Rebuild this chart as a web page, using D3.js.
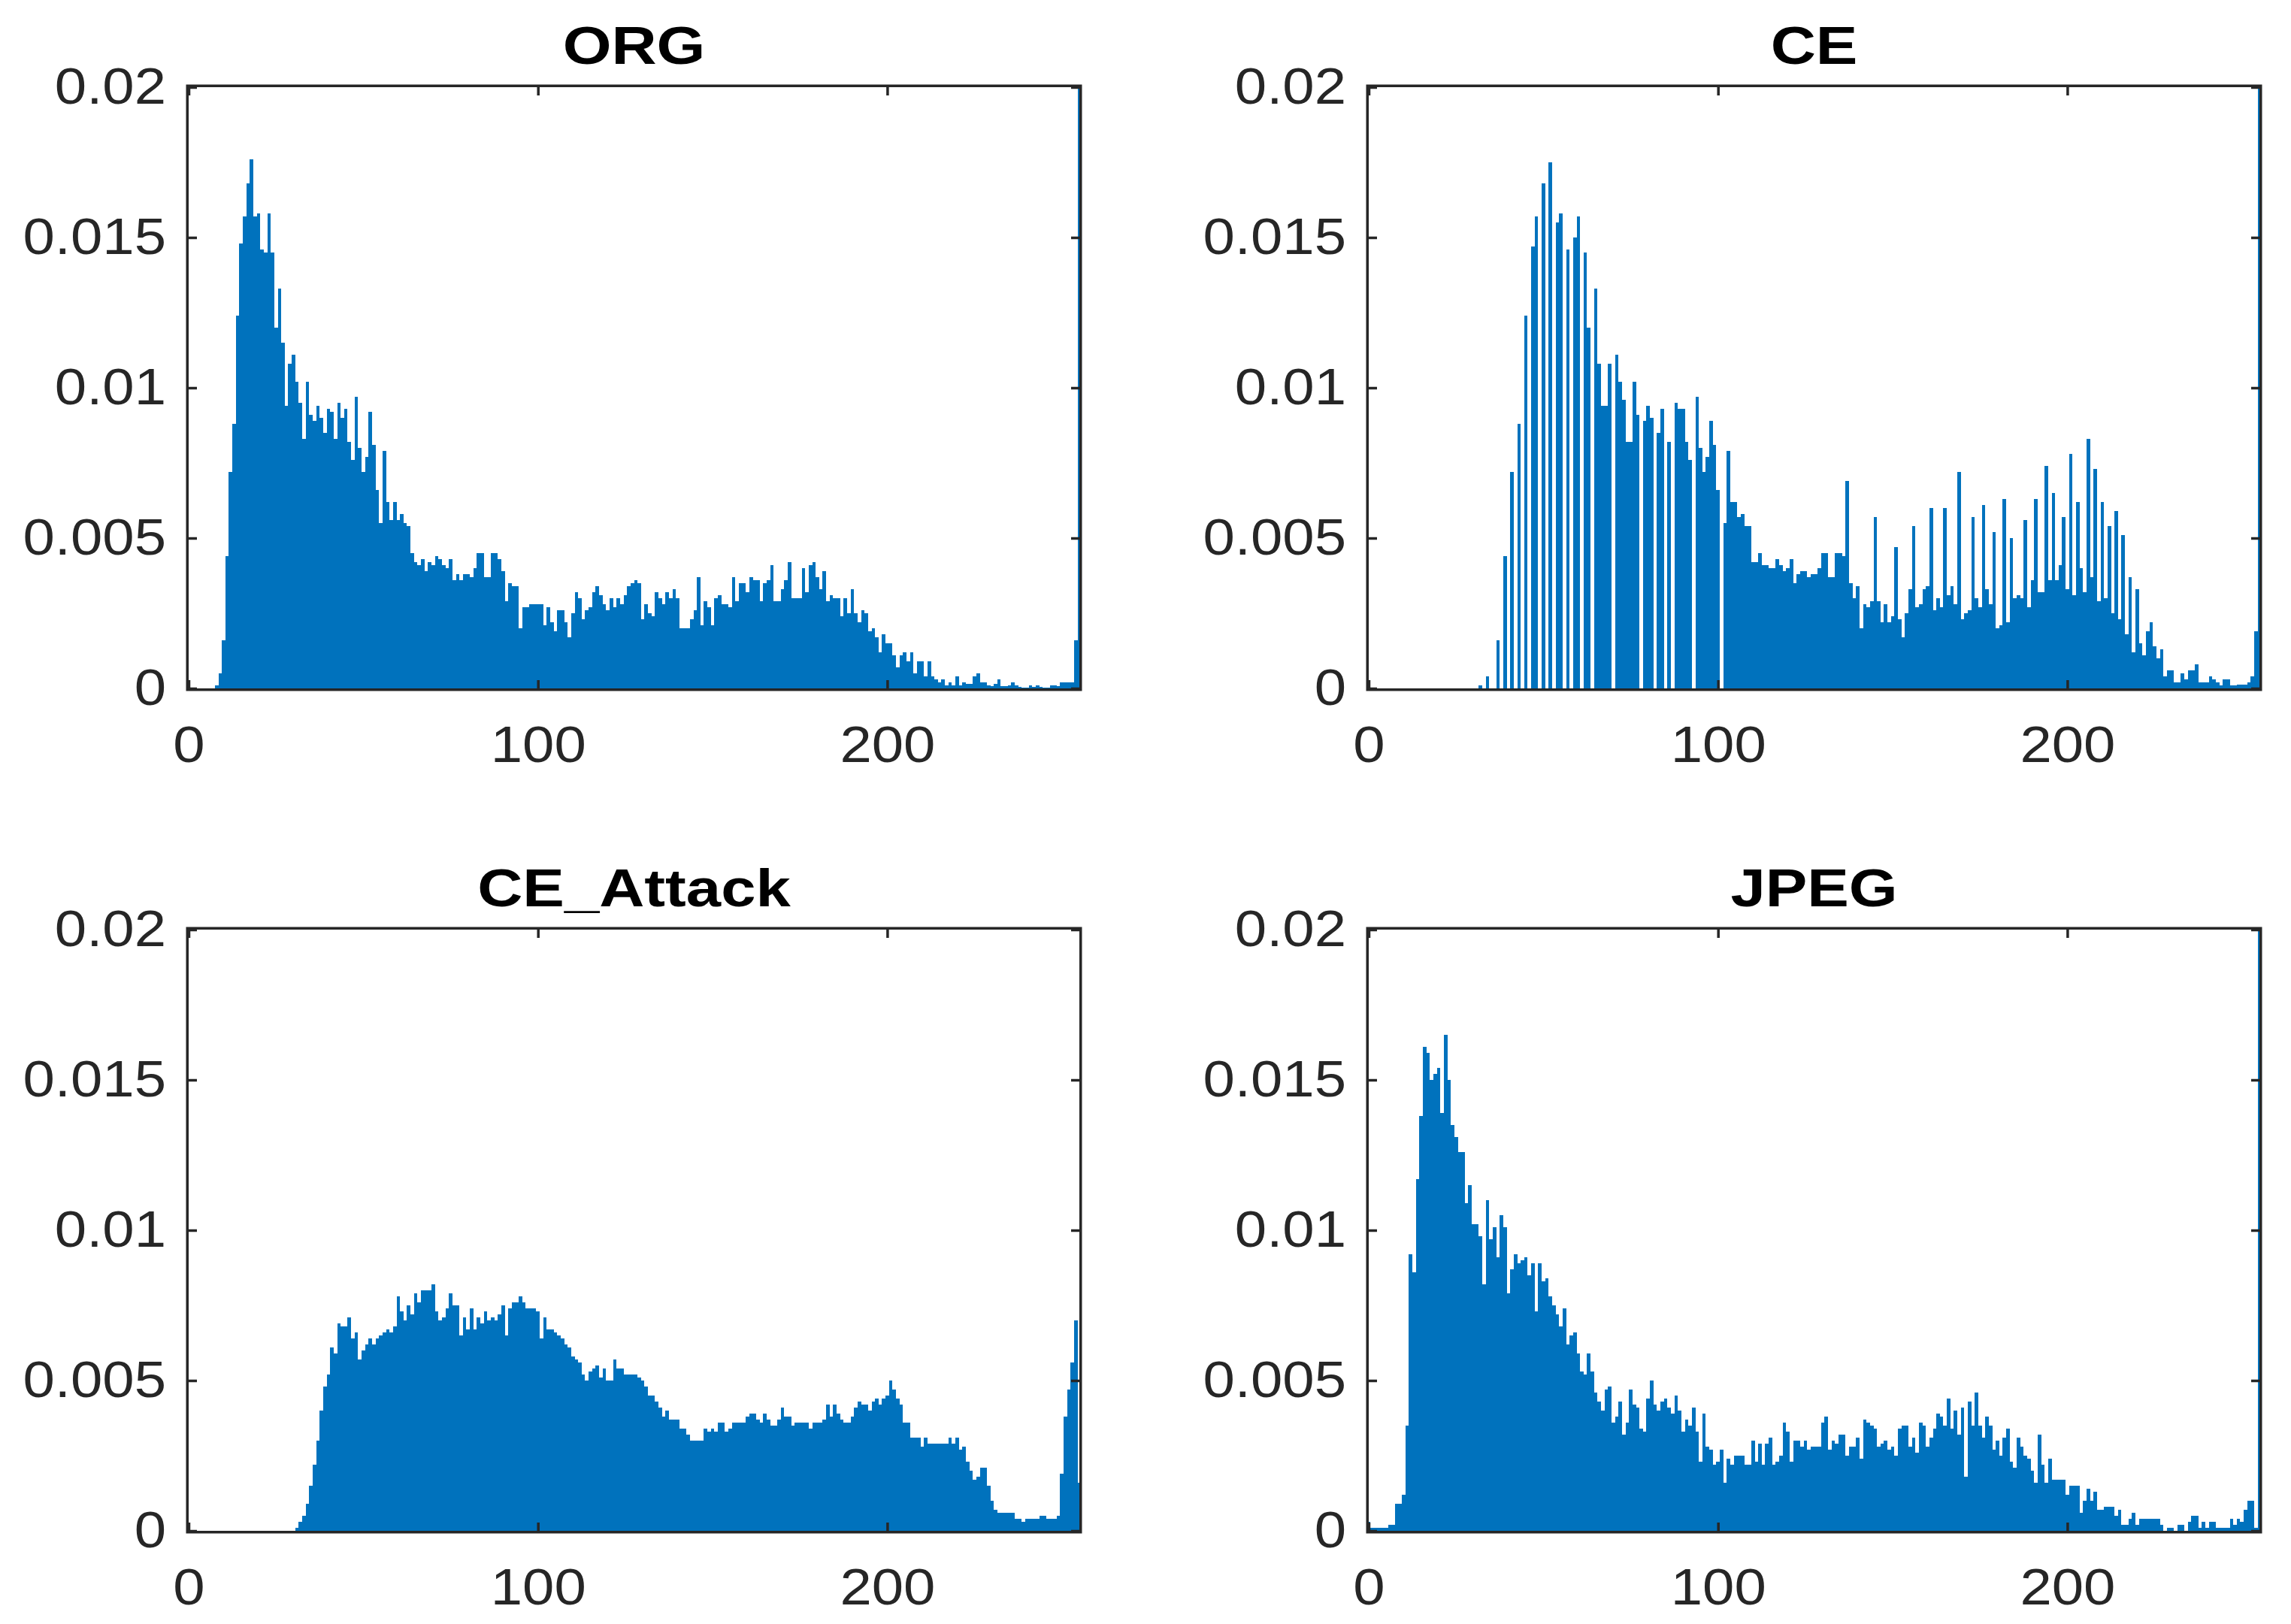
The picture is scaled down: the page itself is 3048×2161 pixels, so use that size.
<!DOCTYPE html>
<html>
<head>
<meta charset="utf-8">
<title>Histograms</title>
<script src="https://cdn.jsdelivr.net/npm/d3@7"></script>
<style>
	html, body { margin: 0; padding: 0; background: #fff; }
</style>
</head>
<body>
<div id="chart"></div>
<script>

// grey-level histograms (normalised counts), one value per bin 0..255
// values above 0.02 run off the top of the axes and are clipped
const ORG = [
	0, 0, 0, 0, 0, 0, 0, 0, 0.0001, 0.0005, 0.0016, 0.0044, 0.0072, 0.0088, 0.0124, 0.0148,
	0.0157, 0.0168, 0.0176, 0.0157, 0.0158, 0.0146, 0.0145, 0.0158, 0.0145, 0.0120, 0.0133, 0.0115, 0.0094, 0.0108, 0.0111, 0.0102,
	0.0095, 0.0083, 0.0102, 0.0091, 0.0089, 0.0094, 0.0090, 0.0085, 0.0093, 0.0092, 0.0083, 0.0095, 0.0090, 0.0093, 0.0082, 0.0076,
	0.0097, 0.0080, 0.0072, 0.0077, 0.0092, 0.0081, 0.0066, 0.0055, 0.0079, 0.0062, 0.0056, 0.0062, 0.0056, 0.0058, 0.0055, 0.0054,
	0.0045, 0.0042, 0.0041, 0.0043, 0.0039, 0.0042, 0.0041, 0.0044, 0.0043, 0.0041, 0.0040, 0.0043, 0.0036, 0.0038, 0.0036, 0.0038,
	0.0038, 0.0037, 0.0040, 0.0045, 0.0045, 0.0037, 0.0037, 0.0045, 0.0045, 0.0043, 0.0039, 0.0029, 0.0035, 0.0034, 0.0034, 0.0020,
	0.0027, 0.0027, 0.0028, 0.0028, 0.0028, 0.0028, 0.0021, 0.0027, 0.0022, 0.0019, 0.0026, 0.0026, 0.0022, 0.0017, 0.0025, 0.0032,
	0.0030, 0.0023, 0.0026, 0.0027, 0.0032, 0.0034, 0.0031, 0.0028, 0.0026, 0.0030, 0.0027, 0.0030, 0.0028, 0.0031, 0.0034, 0.0035,
	0.0036, 0.0035, 0.0023, 0.0028, 0.0025, 0.0024, 0.0032, 0.0030, 0.0028, 0.0032, 0.0030, 0.0033, 0.0030, 0.0020, 0.0020, 0.0020,
	0.0023, 0.0026, 0.0037, 0.0021, 0.0029, 0.0027, 0.0021, 0.0030, 0.0031, 0.0028, 0.0028, 0.0027, 0.0037, 0.0029, 0.0035, 0.0035,
	0.0032, 0.0037, 0.0036, 0.0036, 0.0029, 0.0035, 0.0036, 0.0041, 0.0029, 0.0029, 0.0033, 0.0036, 0.0042, 0.0030, 0.0030, 0.0030,
	0.0040, 0.0032, 0.0041, 0.0042, 0.0037, 0.0033, 0.0039, 0.0029, 0.0031, 0.0030, 0.0030, 0.0024, 0.0030, 0.0025, 0.0033, 0.0025,
	0.0022, 0.0026, 0.0025, 0.0019, 0.0020, 0.0017, 0.0012, 0.0018, 0.0015, 0.0015, 0.0011, 0.0007, 0.0011, 0.0012, 0.0009, 0.0012,
	0.0005, 0.0009, 0.0009, 0.0004, 0.0009, 0.0004, 0.0003, 0.0002, 0.0003, 0.0001, 0.0002, 0.0001, 0.0004, 0.0001, 0.0002, 0.00015,
	0.00015, 0.0004, 0.0005, 0.0002, 0.0002, 0.0001, 0.00007, 0.00015, 0.0003, 0.00007, 0.00007, 0.0001, 0.0002, 0.0001, 0.00005, 0.00003,
	0.00003, 0.0001, 0.00005, 0.0001, 0.00005, 0.00003, 0.00003, 0.0001, 0.0001, 0.00007, 0.0002, 0.0002, 0.0002, 0.0002, 0.0016, 0.022
];

const CE = [
	0, 0, 0, 0, 0, 0, 0, 0, 0, 0, 0, 0, 0, 0, 0, 0,
	0, 0, 0, 0, 0, 0, 0, 0, 0, 0, 0, 0, 0, 0, 0, 0,
	0.0001, 0, 0.0004, 0, 0, 0.0016, 0, 0.0044, 0, 0.0072, 0, 0.0088, 0, 0.0124, 0, 0.0147,
	0.0157, 0, 0.0168, 0, 0.0175, 0, 0.0155, 0.0158, 0, 0.0146, 0, 0.0150, 0.0157, 0, 0.0145, 0.0120,
	0, 0.0133, 0.0108, 0.0094, 0.0094, 0.0108, 0, 0.0111, 0.0102, 0.0096, 0.0082, 0.0082, 0.0102, 0.0091, 0, 0.0089,
	0.0094, 0.0090, 0, 0.0085, 0.0093, 0, 0.0082, 0, 0.0095, 0.0093, 0.0093, 0.0082, 0.0076, 0, 0.0097, 0.0080,
	0.0072, 0.0077, 0.0089, 0.0081, 0.0066, 0, 0.0055, 0.0079, 0.0062, 0.0062, 0.0057, 0.0058, 0.0054, 0.0054, 0.0042, 0.0042,
	0.0045, 0.0041, 0.0041, 0.0040, 0.0040, 0.0043, 0.0041, 0.0039, 0.0040, 0.0043, 0.0035, 0.0038, 0.0039, 0.0039, 0.0037, 0.0038,
	0.0038, 0.0040, 0.0045, 0.0045, 0.0037, 0.0037, 0.0045, 0.0045, 0.0044, 0.0069, 0.0035, 0.0030, 0.0034, 0.0020, 0.0028, 0.0027,
	0.0029, 0.0057, 0.0029, 0.0022, 0.0028, 0.0022, 0.0024, 0.0047, 0.0023, 0.0017, 0.0025, 0.0033, 0.0054, 0.0027, 0.0028, 0.0033,
	0.0034, 0.0060, 0.0026, 0.0030, 0.0027, 0.0060, 0.0031, 0.0034, 0.0028, 0.0072, 0.0023, 0.0025, 0.0026, 0.0057, 0.0030, 0.0027,
	0.0061, 0.0033, 0.0028, 0.0052, 0.0020, 0.0021, 0.0063, 0.0022, 0.0050, 0.0030, 0.0031, 0.0030, 0.0056, 0.0027, 0.0036, 0.0063,
	0.0032, 0.0032, 0.0074, 0.0036, 0.0065, 0.0036, 0.0041, 0.0057, 0.0033, 0.0078, 0.0031, 0.0062, 0.0040, 0.0032, 0.0083, 0.0037,
	0.0073, 0.0029, 0.0062, 0.0030, 0.0054, 0.0025, 0.0059, 0.0023, 0.0051, 0.0018, 0.0037, 0.0012, 0.0033, 0.0015, 0.0011, 0.0019,
	0.0022, 0.0014, 0.0010, 0.0013, 0.0004, 0.0006, 0.0006, 0.0002, 0.0002, 0.0005, 0.0003, 0.0006, 0.0006, 0.0008, 0.0002, 0.0002,
	0.0002, 0.0004, 0.0003, 0.0002, 0.0001, 0.0003, 0.0003, 0.0001, 0.0001, 0.00012, 0.00013, 0.00013, 0.0002, 0.0004, 0.0019, 0.022
];

const CE_ATTACK = [
	0, 0, 0, 0, 0, 0, 0, 0, 0, 0, 0, 0, 0, 0, 0, 0,
	0, 0, 0, 0, 0, 0, 0, 0, 0, 0, 0, 0, 0, 0, 0, 0.0001,
	0.0003, 0.0005, 0.0009, 0.0015, 0.0022, 0.0030, 0.0040, 0.0048, 0.0052, 0.0061, 0.0059, 0.0069, 0.0068, 0.0068, 0.0071, 0.0064,
	0.0066, 0.0057, 0.0060, 0.0062, 0.0064, 0.0062, 0.0064, 0.0065, 0.0066, 0.0067, 0.0066, 0.0068, 0.0078, 0.0073, 0.0070, 0.0075,
	0.0072, 0.0079, 0.0076, 0.0080, 0.0080, 0.0080, 0.0082, 0.0073, 0.0070, 0.0071, 0.0074, 0.0079, 0.0075, 0.0075, 0.0065, 0.0071,
	0.0067, 0.0074, 0.0067, 0.0071, 0.0069, 0.0073, 0.0070, 0.0071, 0.0070, 0.0072, 0.0075, 0.0065, 0.0074, 0.0076, 0.0076, 0.0078,
	0.0076, 0.0074, 0.0074, 0.0074, 0.0073, 0.0064, 0.0071, 0.0067, 0.0067, 0.0066, 0.0065, 0.0064, 0.0062, 0.0061, 0.0058, 0.0057,
	0.0056, 0.0052, 0.0050, 0.0053, 0.0054, 0.0055, 0.0051, 0.0054, 0.0050, 0.0050, 0.0057, 0.0054, 0.0054, 0.0052, 0.0052, 0.0052,
	0.0052, 0.0051, 0.0050, 0.0048, 0.0045, 0.0045, 0.0043, 0.0041, 0.0038, 0.0040, 0.0037, 0.0037, 0.0037, 0.0034, 0.0034, 0.0032,
	0.0030, 0.0030, 0.0030, 0.0030, 0.0034, 0.0033, 0.0034, 0.0033, 0.0036, 0.0036, 0.0033, 0.0034, 0.0036, 0.0036, 0.0036, 0.0036,
	0.0038, 0.0039, 0.0039, 0.0037, 0.0036, 0.0039, 0.0037, 0.0035, 0.0035, 0.0037, 0.0041, 0.0038, 0.0038, 0.0035, 0.0036, 0.0036,
	0.0036, 0.0036, 0.0034, 0.0036, 0.0036, 0.0036, 0.0037, 0.0042, 0.0038, 0.0042, 0.0039, 0.0037, 0.0036, 0.0036, 0.0038, 0.0041,
	0.0043, 0.0042, 0.0042, 0.0040, 0.0043, 0.0044, 0.0042, 0.0044, 0.0045, 0.0050, 0.0047, 0.0044, 0.0042, 0.0036, 0.0036, 0.0031,
	0.0031, 0.0031, 0.0028, 0.0031, 0.0029, 0.0029, 0.0029, 0.0029, 0.0029, 0.0029, 0.0031, 0.0029, 0.0031, 0.0027, 0.0028, 0.0023,
	0.0020, 0.0017, 0.0018, 0.0021, 0.0021, 0.0015, 0.0010, 0.0007, 0.0006, 0.0006, 0.0006, 0.0006, 0.0006, 0.0004, 0.0004, 0.0003,
	0.0004, 0.0004, 0.0004, 0.0004, 0.0005, 0.0005, 0.0004, 0.0004, 0.0004, 0.0005, 0.0019, 0.0038, 0.0047, 0.0056, 0.0070, 0.0016
];

const JPEG = [
	0.0003, 0.0001, 0.0001, 0.0001, 0.0001, 0.0001, 0.0002, 0.0002, 0.0009, 0.0009, 0.0012, 0.0035, 0.0092, 0.0086, 0.0117, 0.0138,
	0.0161, 0.0159, 0.0150, 0.0152, 0.0154, 0.0139, 0.0165, 0.0150, 0.0135, 0.0131, 0.0126, 0.0126, 0.0109, 0.0115, 0.0102, 0.0102,
	0.0098, 0.0082, 0.0110, 0.0097, 0.0101, 0.0091, 0.0105, 0.0101, 0.0079, 0.0087, 0.0092, 0.0089, 0.0090, 0.0091, 0.0085, 0.0089,
	0.0073, 0.0089, 0.0083, 0.0084, 0.0078, 0.0075, 0.0072, 0.0068, 0.0074, 0.0062, 0.0065, 0.0066, 0.0059, 0.0053, 0.0052, 0.0059,
	0.0053, 0.0046, 0.0043, 0.0040, 0.0047, 0.0048, 0.0036, 0.0038, 0.0043, 0.0032, 0.0036, 0.0047, 0.0042, 0.0041, 0.0034, 0.0033,
	0.0044, 0.0050, 0.0042, 0.0040, 0.0043, 0.0044, 0.0041, 0.0039, 0.0045, 0.0040, 0.0033, 0.0037, 0.0035, 0.0041, 0.0033, 0.0023,
	0.0039, 0.0028, 0.0027, 0.0022, 0.0023, 0.0027, 0.0016, 0.0024, 0.0022, 0.0025, 0.0025, 0.0025, 0.0022, 0.0022, 0.0030, 0.0023,
	0.0029, 0.0022, 0.0029, 0.0031, 0.0022, 0.0023, 0.0025, 0.0036, 0.0033, 0.0023, 0.0030, 0.0030, 0.0028, 0.0030, 0.0027, 0.0028,
	0.0028, 0.0028, 0.0036, 0.0038, 0.0027, 0.0030, 0.0029, 0.0032, 0.0032, 0.0025, 0.0028, 0.0028, 0.0031, 0.0024, 0.0037, 0.0036,
	0.0035, 0.0034, 0.0028, 0.0029, 0.0030, 0.0027, 0.0028, 0.0025, 0.0034, 0.0035, 0.0035, 0.0028, 0.0031, 0.0026, 0.0036, 0.0035,
	0.0028, 0.0031, 0.0034, 0.0039, 0.0038, 0.0035, 0.0044, 0.0034, 0.0040, 0.0032, 0.0041, 0.0018, 0.0043, 0.0035, 0.0046, 0.0035,
	0.0031, 0.0038, 0.0035, 0.0027, 0.0030, 0.0025, 0.0031, 0.0034, 0.0023, 0.0021, 0.0031, 0.0028, 0.0025, 0.0024, 0.0020, 0.0016,
	0.0032, 0.0022, 0.0016, 0.0024, 0.0017, 0.0017, 0.0017, 0.0017, 0.0012, 0.0015, 0.0015, 0.0015, 0.0006, 0.0010, 0.0014, 0.0010,
	0.0013, 0.0007, 0.0007, 0.0008, 0.0008, 0.0008, 0.0005, 0.0007, 0.0002, 0.0002, 0.0004, 0.0006, 0.0002, 0.0004, 0.0004, 0.0004,
	0.0004, 0.0004, 0.0004, 0.0002, 0, 0.0001, 0.0001, 0, 0.0002, 0.0002, 0, 0.0003, 0.0005, 0.0005, 0.0001, 0.0003,
	0.0001, 0.0003, 0.0003, 0.0001, 0.0001, 0.0001, 0.0001, 0.0004, 0.0002, 0.0004, 0.0003, 0.0007, 0.0010, 0.0010, 0.0001, 0.022
];

const TITLES = ['ORG', 'CE', 'CE_Attack', 'JPEG'];
const SERIES = [ORG, CE, CE_ATTACK, JPEG];
const X_TICKS = [0, 100, 200];
const Y_TICKS = [0, 0.005, 0.01, 0.015, 0.02];

const W = 3048,
	H = 2161,
	COL_X = [251, 1821],
	ROW_Y = [116, 1237],
	AX_W = 1185,
	AX_H = 800,
	BAR_COLOR = '#0072bd',
	AXIS_COLOR = '#262626',
	LINE_W = 3.5,
	TICK_LEN = 11,
	FONT = '"Liberation Sans", Arial, Helvetica, sans-serif',
	TICK_FONT_SIZE = 68,
	TICK_SX = 1.12,	// the source text is drawn a little wide
	TITLE_FONT_SIZE = 70,
	TITLE_SX = 1.19;

const svg = d3.select('#chart').append('svg')
	.attr('width', W)
	.attr('height', H)
	.style('background', '#fff');

SERIES.forEach((values, k) => {

	let col = k % 2,
		row = Math.floor(k / 2),
		left = COL_X[col],
		top = ROW_Y[row];

	let x = d3.scaleLinear().domain([0, 255]).range([left, left + AX_W]),
		y = d3.scaleLinear().domain([0, 0.02]).range([top + AX_H, top]),
		binW = x(1) - x(0);

	let g = svg.append('g').attr('class', 'panel');

	let clipId = 'clip' + k;
	g.append('clipPath').attr('id', clipId)
		.append('rect')
		.attr('x', left)
		.attr('y', top)
		.attr('width', AX_W)
		.attr('height', AX_H);

	// bars, one per grey level, centred on the level
	g.append('g')
		.attr('clip-path', 'url(#' + clipId + ')')
		.selectAll('rect')
		.data(values)
		.join('rect')
		.attr('x', (d, i) => x(i - 0.5))
		.attr('width', binW)
		.attr('y', d => y(d))
		.attr('height', d => y(0) - y(d))
		.attr('fill', BAR_COLOR)
		.attr('shape-rendering', 'crispEdges');

	// box sits just outside the plotting area
	g.append('rect')
		.attr('x', left - LINE_W / 2)
		.attr('y', top - LINE_W / 2)
		.attr('width', AX_W + LINE_W)
		.attr('height', AX_H + LINE_W)
		.attr('fill', 'none')
		.attr('stroke', AXIS_COLOR)
		.attr('stroke-width', LINE_W);

	let styleAxis = sel => {
		sel.attr('color', AXIS_COLOR)
			.attr('font-family', FONT)
			.attr('font-size', TICK_FONT_SIZE);
		sel.select('.domain').remove();
		sel.selectAll('.tick line').attr('stroke-width', LINE_W);
		sel.selectAll('.tick text').attr('fill', AXIS_COLOR);
	};

	let xBottom = g.append('g')
		.attr('transform', 'translate(0,' + (top + AX_H) + ')')
		.call(d3.axisBottom(x).tickValues(X_TICKS).tickSizeInner(-TICK_LEN).tickSizeOuter(0).tickPadding(50));
	styleAxis(xBottom);
	xBottom.selectAll('.tick text').attr('transform', 'scale(' + TICK_SX + ',1)');

	let xTop = g.append('g')
		.attr('transform', 'translate(0,' + top + ')')
		.call(d3.axisTop(x).tickValues(X_TICKS).tickSizeInner(-TICK_LEN).tickSizeOuter(0).tickFormat(''));
	styleAxis(xTop);

	let yLeft = g.append('g')
		.attr('transform', 'translate(' + left + ',0)')
		.call(d3.axisLeft(y).tickValues(Y_TICKS).tickSizeInner(-TICK_LEN).tickSizeOuter(0).tickFormat(d => String(d)));
	styleAxis(yLeft);
	yLeft.selectAll('.tick text')
		.attr('x', -30 / TICK_SX)
		.attr('transform', 'scale(' + TICK_SX + ',1)');

	let yRight = g.append('g')
		.attr('transform', 'translate(' + (left + AX_W) + ',0)')
		.call(d3.axisRight(y).tickValues(Y_TICKS).tickSizeInner(-TICK_LEN).tickSizeOuter(0).tickFormat(''));
	styleAxis(yRight);

	g.append('text')
		.attr('transform', 'translate(' + (left + AX_W / 2) + ',' + (top - 31) + ') scale(' + TITLE_SX + ',1)')
		.attr('text-anchor', 'middle')
		.attr('font-family', FONT)
		.attr('font-size', TITLE_FONT_SIZE)
		.attr('font-weight', 'bold')
		.attr('fill', '#000')
		.text(TITLES[k]);

});

</script>
</body>
</html>
